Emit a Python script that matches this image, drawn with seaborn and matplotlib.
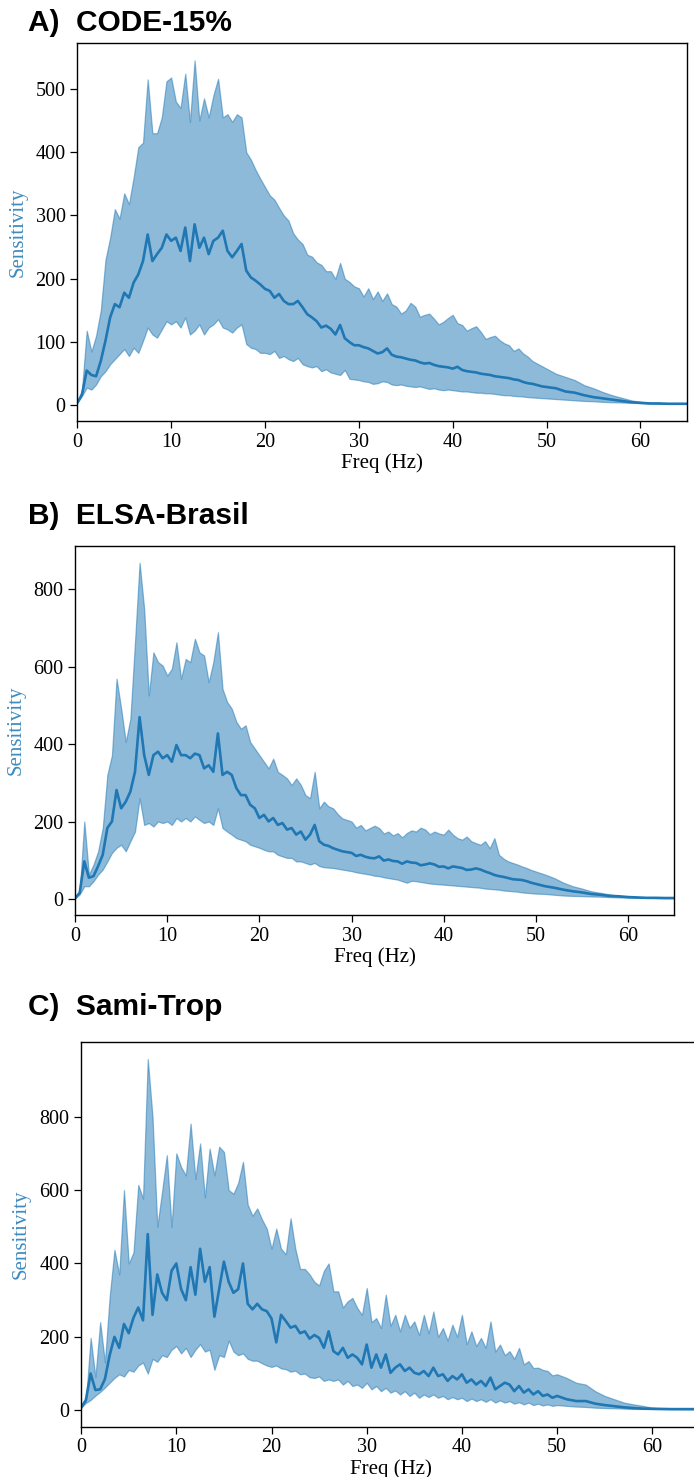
import numpy as np
import seaborn as sns
import matplotlib.pyplot as plt

# frequency grid (Hz): half-Hz steps up to 50 Hz, then 1 Hz in the flat tail
freq = np.concatenate([np.arange(0, 50.5, 0.5), np.arange(51, 66, 1.0)])

# A) CODE-15%
code_upper = [4, 25, 118, 85, 110, 150, 230, 265, 310, 295,
              335, 318, 360, 408, 415, 515, 430, 430, 455, 512,
              518, 480, 470, 524, 448, 545, 450, 485, 455, 490,
              516, 455, 460, 448, 460, 455, 400, 388, 372, 358,
              345, 332, 325, 312, 300, 292, 272, 262, 255, 238,
              235, 226, 222, 212, 212, 200, 225, 200, 195, 188,
              185, 172, 185, 168, 180, 165, 177, 160, 156, 145,
              150, 162, 156, 140, 143, 145, 137, 128, 132, 138,
              143, 130, 127, 118, 122, 125, 116, 105, 108, 110,
              103, 98, 95, 86, 90, 82, 77, 70, 66, 62,
              58,
              50, 45, 40, 32, 27, 21, 16, 12, 8, 5.5,
              4, 3, 2.5, 2.5, 2.5]
code_mean = [4, 17, 55, 48, 46, 70, 102, 139, 160, 155,
             178, 170, 194, 207, 228, 270, 228, 239, 249, 270,
             260, 265, 244, 281, 228, 286, 249, 265, 239, 260,
             265, 276, 244, 234, 244, 255, 213, 202, 197, 191,
             184, 181, 170, 176, 165, 160, 160, 165, 155, 144,
             139, 133, 123, 126, 121, 112, 127, 106, 100, 95,
             95, 92, 90, 86, 82, 84, 90, 80, 77, 76,
             74, 72, 71, 68, 66, 67, 64, 62, 61, 60,
             58, 61, 56, 54, 53, 52, 50, 49, 48, 46,
             45, 44, 43, 41, 40, 37, 35, 34, 32, 30,
             29,
             27, 22, 20, 16, 13, 11, 9, 7, 5, 4,
             3, 3, 2.5, 2.5, 2.5]
code_lower = [4, 15, 28, 25, 33, 46, 54, 65, 73, 81,
              89, 78, 91, 83, 102, 123, 112, 107, 120, 133,
              128, 133, 123, 139, 112, 118, 128, 112, 123, 128,
              136, 123, 120, 115, 123, 128, 97, 91, 89, 83,
              83, 81, 86, 75, 78, 73, 70, 75, 65, 62,
              60, 62, 54, 57, 52, 50, 48, 56, 42, 41,
              40, 38, 37, 34, 35, 38, 37, 33, 32, 33,
              31, 30, 29, 30, 28, 26, 27, 25, 24, 25,
              24, 23, 22, 22, 21, 20, 20, 19, 19, 18,
              17, 16, 16, 15, 14.5, 14, 13, 12.5, 12, 11.5,
              11,
              10, 9, 8, 7, 6.5, 5.5, 5, 4.5, 4, 3.5,
              3, 3, 2.5, 2.5, 2.5]

# B) ELSA-Brasil
elsa_upper = [4, 21, 201, 64, 90, 124, 184, 321, 372, 569,
              492, 406, 466, 663, 868, 748, 526, 637, 612, 603,
              577, 595, 663, 569, 620, 612, 672, 637, 629, 560,
              612, 689, 543, 509, 492, 458, 440, 449, 406, 389,
              372, 355, 338, 363, 329, 321, 312, 295, 312, 295,
              269, 261, 329, 235, 252, 240, 235, 220, 209, 205,
              201, 185, 192, 178, 184, 190, 184, 170, 175, 165,
              171, 160, 171, 178, 175, 185, 180, 168, 175, 170,
              167, 180, 167, 158, 154, 162, 150, 145, 141, 150,
              132, 158, 115, 105, 98, 94, 90, 85, 81, 76,
              72,
              64, 55, 43, 34, 28, 21, 17, 13, 9, 7,
              5, 4, 4, 3.5, 3.5]
elsa_mean = [3, 17, 98, 56, 60, 86, 115, 184, 201, 282,
             235, 252, 278, 329, 470, 372, 321, 372, 381, 364,
             372, 355, 398, 372, 372, 364, 376, 372, 338, 346,
             329, 428, 321, 329, 321, 287, 269, 269, 244, 235,
             210, 218, 201, 210, 192, 197, 180, 184, 167, 175,
             154, 167, 192, 150, 141, 138, 132, 128, 124, 122,
             120, 112, 115, 110, 107, 106, 111, 100, 103, 99,
             98, 92, 98, 95, 94, 88, 90, 93, 90, 84,
             85, 80, 85, 83, 81, 76, 77, 80, 77, 72,
             68, 63, 60, 58, 55, 52, 51, 50, 47, 43,
             40,
             34, 30, 25, 21, 18, 14, 12, 9, 8, 6,
             5, 4, 4, 3.5, 3.5]
elsa_lower = [3, 13, 34, 34, 47, 64, 77, 98, 120, 133,
              141, 124, 150, 175, 261, 192, 197, 188, 201, 197,
              201, 192, 210, 201, 210, 201, 214, 205, 197, 201,
              192, 235, 184, 175, 167, 158, 154, 150, 141, 137,
              133, 128, 124, 124, 115, 111, 107, 107, 98, 98,
              94, 90, 94, 86, 83, 82, 81, 79, 77, 75,
              73, 70, 68, 66, 64, 61, 60, 57, 55, 53,
              51, 47, 43, 48, 47, 45, 43, 41, 40, 39,
              38, 37, 36, 35, 34, 33, 32, 31, 30, 28,
              27, 26, 25, 23, 22, 21, 20, 18, 17, 16,
              15,
              14, 12, 10, 9, 8.5, 7.5, 7, 6, 5, 4.5,
              4, 4, 3.5, 3.5, 3.5]

# C) Sami-Trop
sami_upper = [7, 25, 197, 90, 240, 130, 310, 437, 370, 600,
              400, 430, 614, 577, 957, 799, 500, 595, 695, 500,
              700, 663, 640, 781, 630, 727, 580, 713, 640, 718,
              704, 600, 590, 620, 677, 560, 530, 550, 520, 495,
              440, 495, 440, 425, 523, 440, 385, 385, 370, 350,
              340, 380, 400, 324, 324, 280, 297, 306, 279, 260,
              333, 240, 251, 224, 315, 230, 260, 215, 260, 225,
              242, 205, 260, 210, 269, 200, 224, 190, 233, 200,
              260, 180, 215, 175, 197, 170, 242, 160, 179, 150,
              161, 140, 170, 125, 134, 115, 116, 110, 107, 95,
              98,
              88, 75, 70, 52, 39, 30, 21, 16, 12, 7,
              5, 4, 3.5, 3.5, 3.5]
sami_mean = [7, 28, 100, 55, 57, 85, 150, 200, 170, 235,
             210, 252, 280, 245, 480, 260, 370, 320, 300, 380,
             400, 330, 300, 390, 315, 440, 350, 390, 255, 330,
             405, 350, 320, 330, 400, 290, 275, 290, 275, 270,
             250, 185, 260, 243, 225, 230, 210, 215, 195, 205,
             197, 170, 215, 161, 152, 170, 143, 152, 143, 125,
             179, 116, 152, 116, 152, 102, 116, 125, 107, 116,
             102, 98, 107, 93, 116, 93, 98, 80, 93, 84,
             98, 75, 84, 70, 80, 66, 89, 57, 66, 75,
             70, 52, 66, 48, 57, 43, 52, 39, 43, 34,
             39,
             30, 25, 25, 18, 14, 11, 8, 6, 4.5, 4,
             3.5, 3, 3, 3, 3]
sami_lower = [7, 20, 28, 40, 50, 62, 75, 88, 98, 92,
              110, 105, 122, 130, 100, 140, 132, 150, 145, 165,
              175, 155, 170, 145, 165, 180, 160, 165, 110, 150,
              145, 190, 160, 150, 155, 140, 135, 135, 128, 122,
              118, 122, 114, 112, 105, 108, 98, 100, 90, 88,
              92, 80, 84, 80, 84, 70, 80, 66, 70, 61,
              75, 57, 66, 52, 61, 48, 54, 43, 52, 39,
              48, 34, 43, 36, 43, 34, 39, 30, 36, 30,
              34, 25, 32, 25, 30, 23, 30, 21, 27, 21,
              25, 18, 22, 16, 21, 14, 18, 13, 16, 12,
              14,
              12, 10, 9, 7, 6, 5.5, 4.5, 3.5, 3.5, 3,
              3, 3, 3, 3, 3]

titles = ["A)  CODE-15%", "B)  ELSA-Brasil", "C)  Sami-Trop"]
yticks = [[0, 100, 200, 300, 400, 500], [0, 200, 400, 600, 800], [0, 200, 400, 600, 800]]

panels = [
    (code_mean, code_lower, code_upper),
    (elsa_mean, elsa_lower, elsa_upper),
    (sami_mean, sami_lower, sami_upper),
]

sns.set_theme(style="ticks")
plt.rcParams["font.family"] = ["Liberation Serif", "DejaVu Serif"]
plt.rcParams["xtick.direction"] = "out"
plt.rcParams["ytick.direction"] = "out"

fig = plt.figure(figsize=(6.94, 14.77), dpi=100)

# axes boxes [left, bottom, width, height] in figure fraction
boxes = [
    [0.1114, 0.7150, 0.8790, 0.2557],
    [0.1082, 0.3805, 0.8630, 0.2498],
    [0.1169, 0.0341, 0.8916, 0.2607],
]
title_y = [0.979, 0.645, 0.313]

blue = "#1f77b4"
for i, (mean, lo, hi) in enumerate(panels):
    ax = fig.add_axes(boxes[i])
    ax.fill_between(freq, lo, hi, color=blue, alpha=0.5, edgecolor=blue, linewidth=0.9)
    sns.lineplot(x=freq, y=mean, ax=ax, color=blue, linewidth=1.9)
    ax.set_xlim(0, 65)
    ax.set_xticks([0, 10, 20, 30, 40, 50, 60])
    ax.set_yticks(yticks[i])
    ax.tick_params(labelsize=14.5, length=5, width=0.9, colors="black")
    for s in ax.spines.values():
        s.set_color("black")
        s.set_linewidth(1.0)
    ax.set_xlabel("Freq (Hz)", fontsize=15, color="black", labelpad=1)
    ax.set_ylabel("Sensitivity", fontsize=15, color="#3d8bbf")
    ax.yaxis.set_label_coords(-0.082, 0.5)
    fig.text(0.041, title_y[i], titles[i], fontsize=21.5, fontweight="bold", color="black",
             family=["Liberation Sans", "DejaVu Sans"], ha="left", va="baseline")

fig.savefig("out.png", dpi=100)
